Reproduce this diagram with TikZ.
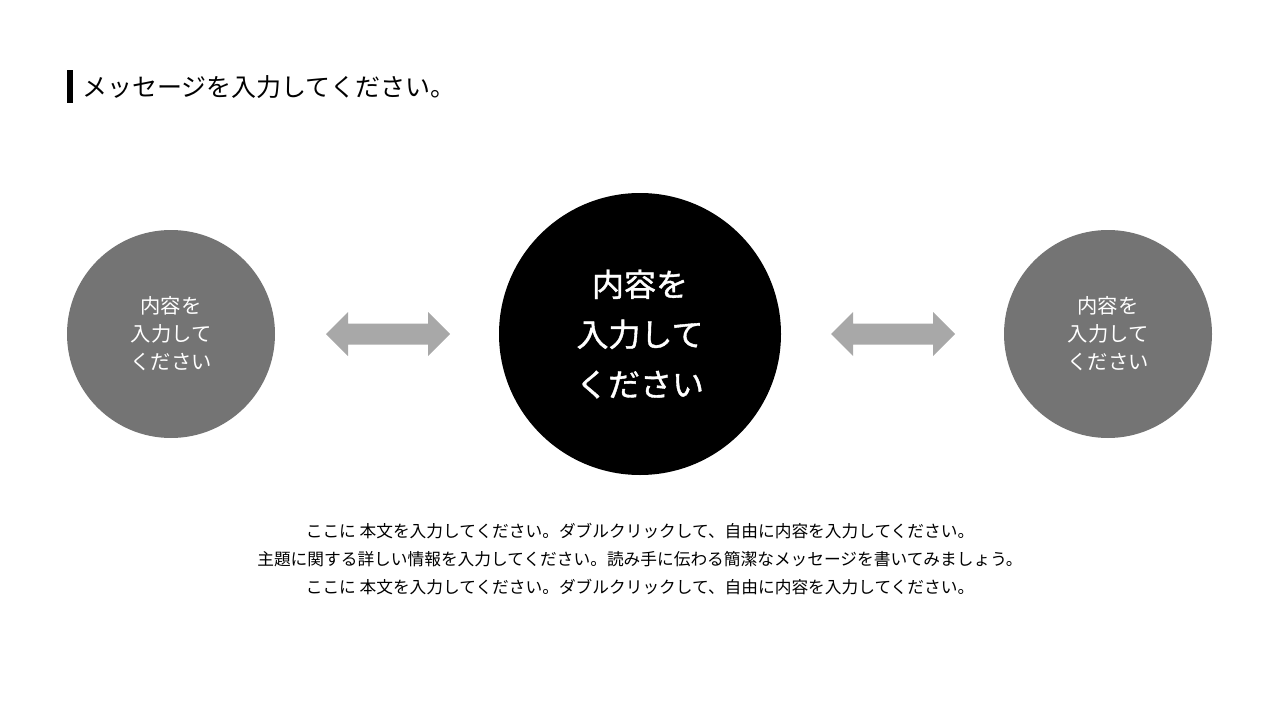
\documentclass[tikz,border=0pt]{standalone}
\usepackage{fontspec}
\setmainfont{Noto Sans CJK JP}
\newfontfamily\medfont{Noto Sans CJK JP}[FakeBold=1.2]
\usetikzlibrary{positioning}
\definecolor{circgray}{HTML}{747474}
\definecolor{arrowgray}{HTML}{A8A8A8}
\tikzset{
  side/.style={circle, fill=circgray, minimum size=208pt, inner sep=0pt, text=white, align=center, font=\fontsize{20.3}{28}\selectfont},
  main/.style={circle, fill=black, minimum size=282pt, inner sep=0pt, text=white, align=center, font=\medfont\fontsize{32}{50}\selectfont},
  dblarrow/.pic={\fill[arrowgray] (-62,0) -- (-40,22) -- (-40,10.5) -- (40,10.5) -- (40,22) -- (62,0) -- (40,-22) -- (40,-10.5) -- (-40,-10.5) -- (-40,-22) -- cycle;}
}

\begin{document}
\begin{tikzpicture}[x=1pt, y=1pt]
        \useasboundingbox (0,0) rectangle (1280,-720);
        % heading
        \fill (67,-70) rectangle (73,-103);
        \node[anchor=west, inner sep=0pt, font=\fontsize{25}{28}\selectfont] (title) at (82,-87) {メッセージを入力してください。};
        % circles
        \node[main] (center) at (640,-334) {内容を\\入力して\\ください};
        \node[side] (left) at (171,-334) {内容を\\入力して\\ください};
        \node[side] (right) at (1108,-334) {内容を\\入力して\\ください};
        % arrows between them
        \pic at (388,-334) {dblarrow};
        \pic at (893,-334) {dblarrow};
        % body text
        \node[align=center, font=\fontsize{16.7}{28}\selectfont] (body) [below=44pt of center] {ここに 本文を入力してください。ダブルクリックして、自由に内容を入力してください。\\主題に関する詳しい情報を入力してください。読み手に伝わる簡潔なメッセージを書いてみましょう。\\ここに 本文を入力してください。ダブルクリックして、自由に内容を入力してください。};
\end{tikzpicture}
\end{document}
